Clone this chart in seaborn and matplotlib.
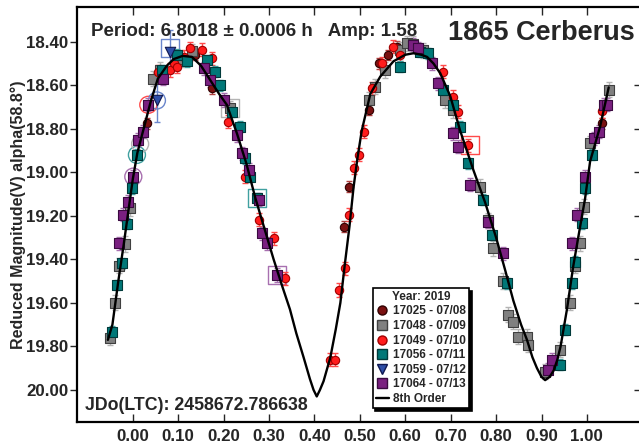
import matplotlib
matplotlib.use("Agg")
import matplotlib.pyplot as plt
from matplotlib.lines import Line2D
import seaborn as sns
import pandas as pd

# ---------------- data ----------------
sessions = ["17025 - 07/08", "17048 - 07/09", "17049 - 07/10",
            "17056 - 07/11", "17059 - 07/12", "17064 - 07/13"]

ph_17025 = [0.031, 0.137, 0.174, 0.464, 0.475, 0.519, 0.541, 0.563, 0.581, 1.033]
mag_17025 = [18.775, 18.461, 18.614, 19.25, 19.066, 18.714, 18.499, 18.461, 18.423, 18.775]

ph_17048 = [-0.050, -0.039, -0.030, -0.017, -0.006, 0.045, 0.060, 0.105, 0.130, 0.214,
            0.519, 0.534, 0.556, 0.589, 0.603, 0.618, 0.640, 0.688, 0.706, 0.765,
            0.783, 0.794, 0.816, 0.827, 0.838, 0.849, 0.868, 0.871, 0.908, 0.941,
            0.963, 0.974, 0.985, 0.993, 1.007, 1.048]
mag_17048 = [19.76, 19.60, 19.43, 19.33, 19.165, 18.57, 18.53, 18.48, 18.445, 18.706,
             18.668, 18.607, 18.53, 18.438, 18.407, 18.41, 18.44, 18.668, 18.714, 19.066,
             19.22, 19.35, 19.50, 19.655, 19.686, 19.755, 19.755, 19.793, 19.916, 19.816,
             19.60, 19.43, 19.326, 19.158, 18.867, 18.62]

ph_17049 = [0.056, 0.082, 0.090, 0.097, 0.113, 0.126, 0.152, 0.174, 0.210, 0.247,
            0.277, 0.310, 0.335, 0.435, 0.446, 0.453, 0.468, 0.475, 0.486, 0.497,
            0.508, 0.526, 0.548, 0.574, 0.589, 0.684, 0.706, 0.717, 0.739, 1.033]
mag_17049 = [18.538, 18.53, 18.50, 18.515, 18.47, 18.43, 18.438, 18.476, 18.767, 19.02,
             19.219, 19.303, 19.487, 19.862, 19.862, 19.541, 19.441, 19.196, 18.98, 18.92,
             18.813, 18.614, 18.499, 18.423, 18.461, 18.538, 18.653, 18.722, 18.875, 18.72]

ph_17056 = [-0.046, -0.034, -0.024, -0.013, -0.002, 0.009, 0.064, 0.097, 0.119, 0.163,
            0.181, 0.192, 0.218, 0.236, 0.247, 0.258, 0.273, 0.589, 0.633, 0.651,
            0.684, 0.706, 0.721, 0.739, 0.772, 0.791, 0.824, 0.941, 0.952, 0.967,
            0.974, 0.989, 0.996, 1.011]
mag_17056 = [19.732, 19.518, 19.418, 19.237, 19.073, 18.92, 18.53, 18.46, 18.49, 18.484,
             18.538, 18.60, 18.722, 18.79, 18.936, 19.02, 19.12, 18.515, 18.446, 18.453,
             18.622, 18.69, 18.79, 18.959, 19.127, 19.288, 19.51, 19.885, 19.724, 19.51,
             19.41, 19.234, 19.073, 18.92]

ph_17059 = [0.053, 0.082]
mag_17059 = [18.67, 18.446]

ph_17064 = [-0.030, -0.021, -0.010, 0.001, 0.012, 0.023, 0.034, 0.067, 0.156, 0.170,
            0.200, 0.229, 0.240, 0.255, 0.277, 0.284, 0.295, 0.317, 0.618, 0.629,
            0.659, 0.673, 0.706, 0.717, 0.743, 0.783, 0.816, 0.915, 0.923, 0.967,
            0.978, 0.996, 1.015, 1.026, 1.037, 1.044]
mag_17064 = [19.326, 19.196, 19.135, 19.02, 18.85, 18.813, 18.69, 18.57, 18.522, 18.576,
             18.668, 18.829, 18.913, 18.989, 19.127, 19.28, 19.326, 19.472, 18.415, 18.43,
             18.50, 18.591, 18.82, 18.882, 19.058, 19.227, 19.372, 19.908, 19.862, 19.326,
             19.196, 19.02, 18.843, 18.813, 18.69, 18.69]

# typical error bar half-size per session (mag)
err_by_session = [0.025, 0.035, 0.03, 0.025, 0.10, 0.03]

# highlighted (open) points
hl_phase = [0.034, 0.001, 0.009, 0.016, 0.053, 0.082, 0.214, 0.273, 0.317, 0.743]
hl_mag = [18.69, 19.02, 18.92, 18.87, 18.67, 18.43, 18.706, 19.12, 19.472, 18.875]
hl_session = [2, 5, 3, 1, 4, 4, 1, 3, 5, 2]
hl_shape = ["o", "o", "o", "o", "o", "s", "s", "s", "s", "s"]

# 8th order Fourier fit
curve_phase = [-0.055, -0.045, -0.032, -0.020, -0.010, 0.000, 0.010, 0.020, 0.030, 0.040,
               0.055, 0.075, 0.090, 0.110, 0.130, 0.150, 0.170, 0.190, 0.207, 0.229,
               0.250, 0.270, 0.290, 0.310, 0.330, 0.346, 0.360, 0.376, 0.390, 0.398,
               0.405, 0.412, 0.420, 0.435, 0.447, 0.457, 0.467, 0.477, 0.486, 0.495,
               0.504, 0.523, 0.545, 0.574, 0.600, 0.618, 0.635, 0.648, 0.662, 0.677,
               0.699, 0.721, 0.750, 0.776, 0.800, 0.820, 0.838, 0.855, 0.868, 0.880,
               0.890, 0.900, 0.908, 0.918, 0.927, 0.935, 0.942, 0.956, 0.970, 0.985,
               0.996, 1.007, 1.018, 1.029, 1.048]
curve_mag = [19.77, 19.70, 19.50, 19.33, 19.18, 19.03, 18.91, 18.83, 18.75, 18.67,
             18.57, 18.51, 18.48, 18.465, 18.47, 18.51, 18.575, 18.64, 18.69, 18.82,
             18.96, 19.12, 19.26, 19.40, 19.53, 19.63, 19.74, 19.85, 19.95, 20.00,
             20.03, 20.00, 19.96, 19.85, 19.72, 19.60, 19.42, 19.25, 19.07, 18.93,
             18.81, 18.64, 18.56, 18.49, 18.46, 18.453, 18.46, 18.47, 18.50, 18.545,
             18.65, 18.81, 18.99, 19.14, 19.30, 19.45, 19.59, 19.70, 19.77, 19.85,
             19.90, 19.94, 19.955, 19.94, 19.91, 19.86, 19.80, 19.63, 19.43, 19.25,
             19.12, 18.95, 18.87, 18.79, 18.61]

# ---------------- styles ----------------
face_colors = ["#7a1010", "#808080", "#ff1c1c", "#007878", "#2f4fa8", "#7a2080"]
edge_colors = ["#300000", "#404040", "#a00000", "#003a3a", "#101850", "#3a0a40"]
err_colors = ["#b04040", "#b4b4b4", "#ff4a4a", "#40a0a0", "#6a86cc", "#a870b0"]
markers = ["o", "s", "o", "s", "v", "s"]
msizes = [36, 50, 36, 50, 56, 50]

ph_all = [ph_17025, ph_17048, ph_17049, ph_17056, ph_17059, ph_17064]
mag_all = [mag_17025, mag_17048, mag_17049, mag_17056, mag_17059, mag_17064]

sns.set_style("ticks")
plt.rcParams["font.family"] = ["Liberation Sans", "DejaVu Sans"]
plt.rcParams["font.weight"] = "bold"

fig = plt.figure(figsize=(6.39, 4.43), dpi=100)
W, H = 639.0, 443.0
L, R, T, B = 77.0, 640.5, 7.3, 421.7
ax = fig.add_axes([L / W, 1 - B / H, (R - L) / W, (B - T) / H])

# open highlight markers
for p, m, s, shp in zip(hl_phase, hl_mag, hl_session, hl_shape):
    ax.scatter([p], [m], s=150 if shp == "o" else 170, marker=shp, facecolors="none",
               edgecolors=err_colors[s], linewidths=1.0, zorder=2)

for i in range(len(sessions)):
    ax.errorbar(ph_all[i], mag_all[i], yerr=err_by_session[i], fmt="none",
                ecolor=err_colors[i], elinewidth=1.0, capsize=2.5, capthick=1.0, zorder=3)
    df = pd.DataFrame({"phase": ph_all[i], "mag": mag_all[i]})
    sns.scatterplot(data=df, x="phase", y="mag", ax=ax, marker=markers[i], s=msizes[i],
                    color=face_colors[i], edgecolor=edge_colors[i], linewidth=0.8,
                    zorder=4, legend=False)

sns.lineplot(x=curve_phase, y=curve_mag, sort=False, estimator=None, color="black",
             linewidth=1.7, ax=ax, zorder=6)

# axes limits & ticks
ax.set_xlim(-0.123, 1.118)
ax.set_ylim(20.146, 18.242)
xt = [round(0.1 * k, 2) for k in range(11)]
yt = [round(18.4 + 0.2 * k, 2) for k in range(9)]
ax.set_xticks(xt)
ax.set_xticklabels([f"{v:.2f}" for v in xt])
ax.set_yticks(yt)
ax.set_yticklabels([f"{v:.2f}" for v in yt])
ax.tick_params(axis="x", direction="in", top=True, bottom=True, length=6, width=1.0,
               labelsize=12.2, pad=5)
ax.tick_params(axis="y", direction="out", left=True, right=False, length=5, width=1.0,
               labelsize=12.2, pad=1)
sec = ax.secondary_yaxis("right")
sec.set_yticks(yt[1:])
sec.tick_params(direction="in", length=5, width=1.0, labelright=False)
sec.spines["right"].set_visible(False)
for sp in ax.spines.values():
    sp.set_linewidth(1.6)
    sp.set_color("black")
ax.set_xlabel("")
ax.set_ylabel("Reduced Magnitude(V) alpha(58.8°)", fontsize=11.5, fontweight="bold")
ax.yaxis.set_label_coords((26 - L) / (R - L), 0.5)

# texts
fig.text(90.6 / W, 1 - 31 / H, "Period: 6.8018 ± 0.0006 h   Amp: 1.58",
         ha="left", va="center", fontsize=13.5, fontweight="bold")
fig.text(635 / W, 1 - 33 / H, "1865 Cerberus", ha="right", va="center",
         fontsize=19.5, fontweight="bold")
fig.text(85 / W, 1 - 406 / H, "JDo(LTC): 2458672.786638", ha="left", va="center",
         fontsize=12.8, fontweight="bold")

# legend
handles = []
for i in range(len(sessions)):
    handles.append(Line2D([], [], linestyle="none", marker=markers[i], markersize=6.5,
                          markerfacecolor=face_colors[i], markeredgecolor=edge_colors[i]))
handles.append(Line2D([], [], color="black", linewidth=1.7))
labels = sessions + ["8th Order"]
leg = ax.legend(handles, labels, title="Year: 2019", loc="lower left",
                bbox_to_anchor=((372.7 - L) / (R - L), (B - 408) / (B - T)),
                borderaxespad=0, prop=dict(size=8.5, weight="bold"),
                title_fontproperties=dict(size=8.5, weight="bold"),
                frameon=True, fancybox=False, edgecolor="black", framealpha=1,
                shadow={"color": "black", "alpha": 1.0},
                borderpad=0.25, labelspacing=0.22, handlelength=1.1, handletextpad=0.4)
leg.get_frame().set_linewidth(1.2)
leg.set_zorder(10)

fig.savefig("out.png", dpi=100)
